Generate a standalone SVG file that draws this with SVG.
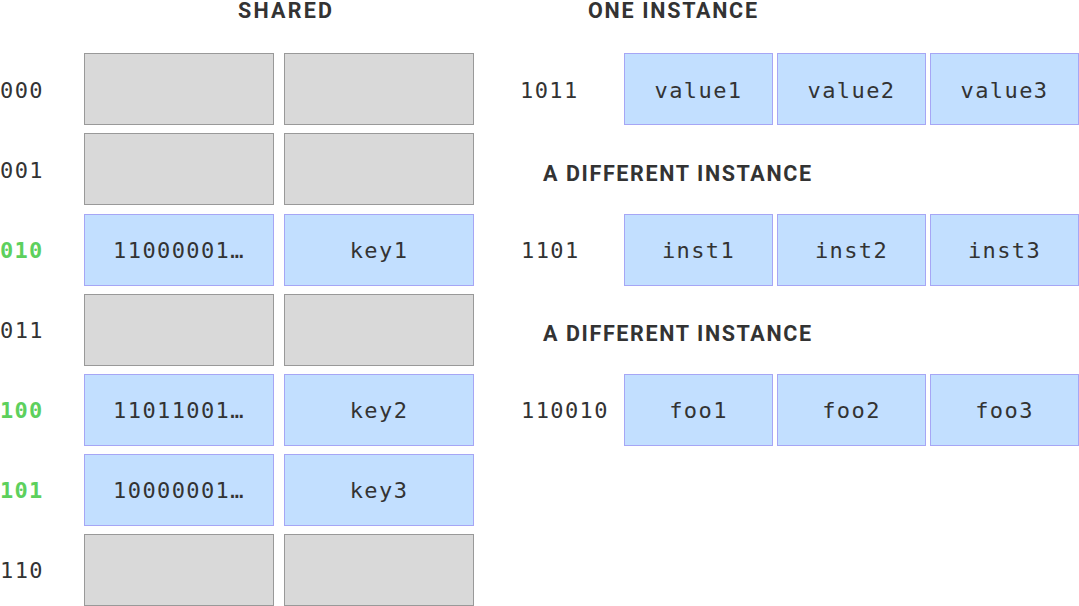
<svg xmlns="http://www.w3.org/2000/svg" width="1079" height="606" viewBox="0 0 1079 606">
<style>
.g{fill:#d9d9d9;stroke:#999;stroke-width:1}
.b{fill:#c2dfff;stroke:#a6a6f5;stroke-width:1}
.t{font-family:"DejaVu Sans Mono","Liberation Mono",monospace;font-size:22px;fill:#333;letter-spacing:1.4px}
.c{text-anchor:middle}
.k{font-family:"DejaVu Sans Mono","Liberation Mono",monospace;font-size:22px;font-weight:bold;fill:#5dd05d;letter-spacing:1.2px}
.h{font-family:Roboto,"Liberation Sans",Arial,sans-serif;font-size:21.5px;font-weight:bold;fill:#333}
</style>
<rect width="1079" height="606" fill="#fff"/>
<text class="h" x="238" y="18" textLength="94">SHARED</text>
<text class="h" x="588" y="18" textLength="169">ONE INSTANCE</text>
<text class="h" x="543" y="181" textLength="268">A DIFFERENT INSTANCE</text>
<text class="h" x="543" y="341" textLength="268">A DIFFERENT INSTANCE</text>
<g id="row000"><text class="t" x="0" y="98">000</text><rect class="g" x="84.5" y="53.5" width="189" height="71"/><rect class="g" x="284.5" y="53.5" width="189" height="71"/></g>
<g id="row001"><text class="t" x="0" y="178">001</text><rect class="g" x="84.5" y="133.5" width="189" height="71"/><rect class="g" x="284.5" y="133.5" width="189" height="71"/></g>
<g id="row010"><text class="k" x="0" y="258">010</text><rect class="b" x="84.5" y="214.5" width="189" height="71"/><text class="t c" x="179" y="258">11000001…</text><rect class="b" x="284.5" y="214.5" width="189" height="71"/><text class="t c" x="379" y="258">key1</text></g>
<g id="row011"><text class="t" x="0" y="338">011</text><rect class="g" x="84.5" y="294.5" width="189" height="71"/><rect class="g" x="284.5" y="294.5" width="189" height="71"/></g>
<g id="row100"><text class="k" x="0" y="418">100</text><rect class="b" x="84.5" y="374.5" width="189" height="71"/><text class="t c" x="179" y="418">11011001…</text><rect class="b" x="284.5" y="374.5" width="189" height="71"/><text class="t c" x="379" y="418">key2</text></g>
<g id="row101"><text class="k" x="0" y="498">101</text><rect class="b" x="84.5" y="454.5" width="189" height="71"/><text class="t c" x="179" y="498">10000001…</text><rect class="b" x="284.5" y="454.5" width="189" height="71"/><text class="t c" x="379" y="498">key3</text></g>
<g id="row110"><text class="t" x="0" y="578">110</text><rect class="g" x="84.5" y="534.5" width="189" height="71"/><rect class="g" x="284.5" y="534.5" width="189" height="71"/></g>
<g id="inst1011"><text class="t" x="520" y="98">1011</text>
<rect class="b" x="624.5" y="53.5" width="148" height="71"/><text class="t c" x="698.5" y="98">value1</text>
<rect class="b" x="777.5" y="53.5" width="148" height="71"/><text class="t c" x="851.5" y="98">value2</text>
<rect class="b" x="930.5" y="53.5" width="148" height="71"/><text class="t c" x="1004.5" y="98">value3</text></g>
<g id="inst1101"><text class="t" x="521" y="258">1101</text>
<rect class="b" x="624.5" y="214.5" width="148" height="71"/><text class="t c" x="698.5" y="258">inst1</text>
<rect class="b" x="777.5" y="214.5" width="148" height="71"/><text class="t c" x="851.5" y="258">inst2</text>
<rect class="b" x="930.5" y="214.5" width="148" height="71"/><text class="t c" x="1004.5" y="258">inst3</text></g>
<g id="inst110010"><text class="t" x="521" y="418">110010</text>
<rect class="b" x="624.5" y="374.5" width="148" height="71"/><text class="t c" x="698.5" y="418">foo1</text>
<rect class="b" x="777.5" y="374.5" width="148" height="71"/><text class="t c" x="851.5" y="418">foo2</text>
<rect class="b" x="930.5" y="374.5" width="148" height="71"/><text class="t c" x="1004.5" y="418">foo3</text></g>
<g id="connectors"></g>
</svg>
